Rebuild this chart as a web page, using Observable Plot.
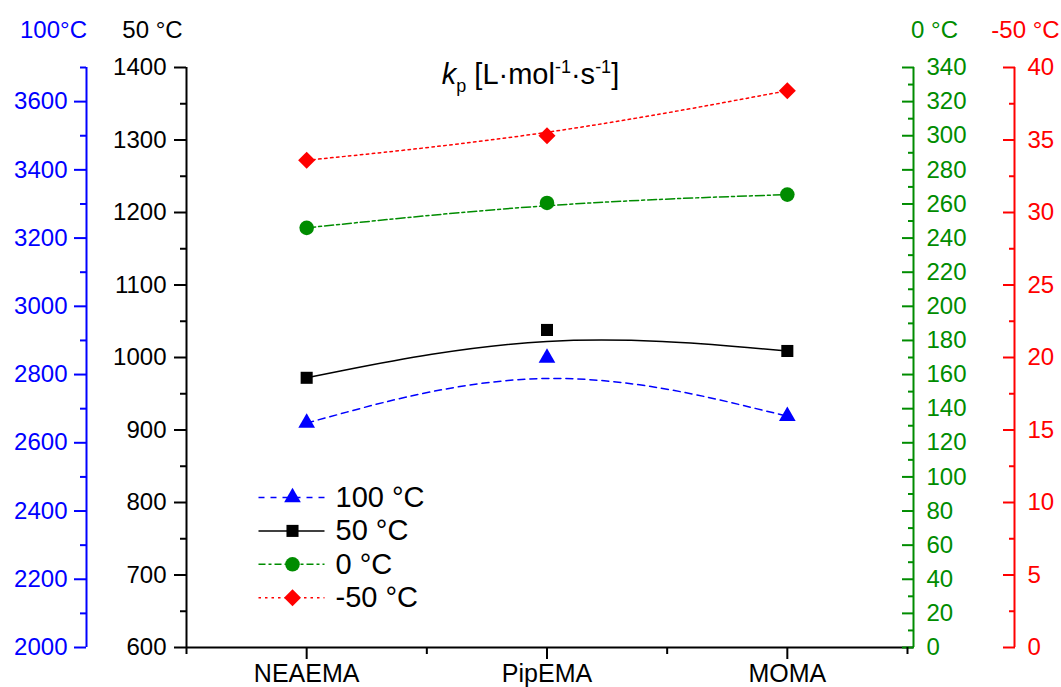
<!DOCTYPE html>
<html>
<head>
<meta charset="utf-8">
<script src="https://cdn.jsdelivr.net/npm/d3@7"></script>
<script src="https://cdn.jsdelivr.net/npm/@observablehq/plot@0.6"></script>
<style>
  html, body { margin: 0; padding: 0; background: white; }
  #wrap { position: relative; width: 1061px; height: 687px; overflow: hidden; font-family: "Liberation Sans", Arial, sans-serif; }
  #title { position: absolute; left: 0; width: 1061px; top: 57px; text-align: center; font-size: 29px; line-height: 34px; color: black; white-space: nowrap; }
  #title .sub { font-size: 18px; position: relative; top: 8px; }
  #title .sup { font-size: 18px; position: relative; top: -11px; }
</style>
</head>
<body>
<div id="wrap">
  <div id="chart"></div>
  <div id="title"><i>k</i><span class="sub">p</span> [L·mol<span class="sup">-1</span>·s<span class="sup">-1</span>]</div>
</div>
<script>
// ---- data ----
const categories = ["NEAEMA", "PipEMA", "MOMA"];
const kp100 = [2658, 2849, 2678];   // 100 °C, blue (left outer axis)
const kp50  = [972, 1038, 1009];    // 50 °C, black (left main axis)
const kp0   = [246, 260.6, 265.5];  // 0 °C, green (right inner axis)
const kpm50 = [33.6, 35.3, 38.4];   // -50 °C, red (right outer axis)

const mainMajor = [600, 700, 800, 900, 1000, 1100, 1200, 1300, 1400];
const mainMinor = [650, 750, 850, 950, 1050, 1150, 1250, 1350];
const blueMajor = [2000, 2200, 2400, 2600, 2800, 3000, 3200, 3400, 3600];
const blueMinor = [2100, 2300, 2500, 2700, 2900, 3100, 3300, 3500, 3700];
const greenMajor = [0, 20, 40, 60, 80, 100, 120, 140, 160, 180, 200, 220, 240, 260, 280, 300, 320, 340];
const greenMinor = [10, 30, 50, 70, 90, 110, 130, 150, 170, 190, 210, 230, 250, 270, 290, 310, 330];
const redMajor = [0, 5, 10, 15, 20, 25, 30, 35, 40];
const redMinor = [2.5, 7.5, 12.5, 17.5, 22.5, 27.5, 32.5, 37.5];
const xMajor = [1, 2, 3];
const xMinor = [0.5, 1.5, 2.5, 3.5];

const legendLabels = ["100 °C", "50 °C", "0 °C", "-50 °C"];
const axisTitles = ["100°C", "50 °C", "0 °C", "-50 °C"];

// ---- axis mappings onto the main (50 °C) scale ----
const toBlue = v => 600 + (v - 2000) * 800 / 1700;
const fromBlue = y => String(Math.round(2000 + (y - 600) * 1700 / 800));
const toGreen = v => 600 + v * 800 / 340;
const fromGreen = y => String(Math.round((y - 600) * 340 / 800));
const toRed = v => 600 + v * 20;
const fromRed = y => String(Math.round((y - 600) / 20));
const toMain = v => v;
const fromMain = y => String(Math.round(y));

const BLUE = "#0000ff", BLACK = "#000000", GREEN = "#008c00", RED = "#ff0000";

const diamond = {
  draw(context, size) {
    const h = Math.sqrt(size / 2);
    context.moveTo(0, -h); context.lineTo(h, 0); context.lineTo(0, h); context.lineTo(-h, 0); context.closePath();
  }
};
const legendLine = {
  draw(context) { context.moveTo(-34, 0); context.lineTo(32, 0); }
};

const series = [
  {values: kp100, map: toBlue, color: BLUE, dash: "7,5", symbol: "triangle", r: 6.2, legendDash: "6,6"},
  {values: kp50, map: toMain, color: BLACK, dash: null, symbol: "square", r: 6.8, legendDash: null},
  {values: kp0, map: toGreen, color: GREEN, dash: "9,3,3,3", symbol: "circle", r: 7.3, legendDash: "7,3,3,3"},
  {values: kpm50, map: toRed, color: RED, dash: "2.5,3.5", symbol: diamond, r: 6.8, legendDash: "2.5,4"}
];

const xDomain = [0.5, 3.525];
const FS = 24;

const marks = [];

// axis lines
marks.push(Plot.ruleX([xDomain[0]], {stroke: BLACK, strokeWidth: 2}));
marks.push(Plot.ruleX([xDomain[0]], {stroke: BLUE, strokeWidth: 2, dx: -100}));
marks.push(Plot.ruleX([xDomain[1]], {stroke: GREEN, strokeWidth: 2}));
marks.push(Plot.ruleX([xDomain[1]], {stroke: RED, strokeWidth: 2, dx: 101}));
marks.push(Plot.ruleY([600], {stroke: BLACK, strokeWidth: 2}));

// main y axis
marks.push(Plot.axisY(mainMajor, {anchor: "left", tickSize: 12, tickPadding: 8, strokeWidth: 2, fontSize: FS, color: BLACK, tickFormat: fromMain}));
marks.push(Plot.axisY(mainMinor, {anchor: "left", tickSize: 6, strokeWidth: 2, tickFormat: () => "", color: BLACK}));
// blue axis
marks.push(Plot.axisY(blueMajor.map(toBlue), {anchor: "left", dx: -100, tickSize: 12, tickPadding: 7, strokeWidth: 2, fontSize: FS, color: BLUE, tickFormat: fromBlue}));
marks.push(Plot.axisY(blueMinor.map(toBlue), {anchor: "left", dx: -100, tickSize: 6, strokeWidth: 2, tickFormat: () => "", color: BLUE}));
// green axis (ticks point inward)
marks.push(Plot.axisY(greenMajor.map(toGreen), {anchor: "right", tickSize: -12, tickPadding: 25, strokeWidth: 2, fontSize: FS, color: GREEN, tickFormat: fromGreen}));
marks.push(Plot.axisY(greenMinor.map(toGreen), {anchor: "right", tickSize: -6, strokeWidth: 2, tickFormat: () => "", color: GREEN}));
// red axis
marks.push(Plot.axisY(redMajor.map(toRed), {anchor: "right", dx: 101, tickSize: -12, tickPadding: 25, strokeWidth: 2, fontSize: FS, color: RED, tickFormat: fromRed}));
marks.push(Plot.axisY(redMinor.map(toRed), {anchor: "right", dx: 101, tickSize: -6, strokeWidth: 2, tickFormat: () => "", color: RED}));
// x axis
marks.push(Plot.axisX(xMajor, {anchor: "bottom", tickSize: 12, tickPadding: 5, strokeWidth: 2, fontSize: 25, color: BLACK, tickFormat: d => categories[d - 1]}));
marks.push(Plot.axisX(xMinor, {anchor: "bottom", tickSize: 7, strokeWidth: 2, tickFormat: () => "", color: BLACK}));

// axis titles
const titleOpts = {frameAnchor: "top-left", dy: -37, fontSize: FS, textAnchor: "middle", lineAnchor: "middle"};
marks.push(Plot.text([axisTitles[0]], {...titleOpts, dx: -133, fill: BLUE}));
marks.push(Plot.text([axisTitles[1]], {...titleOpts, dx: -34, fill: BLACK}));
marks.push(Plot.text([axisTitles[2]], {...titleOpts, frameAnchor: "top-right", dx: 21, fill: GREEN}));
marks.push(Plot.text([axisTitles[3]], {...titleOpts, frameAnchor: "top-right", dx: 112, fill: RED}));

// series
for (const s of series) {
  marks.push(Plot.line(s.values, {x: (d, i) => i + 1, y: d => s.map(d), curve: "basis", stroke: s.color, strokeWidth: 1.5, strokeDasharray: s.dash}));
}
for (const s of series) {
  marks.push(Plot.dot(s.values, {x: (d, i) => i + 1, y: d => s.map(d), symbol: s.symbol, r: s.r, fill: s.color, stroke: "none"}));
}

// legend
series.forEach((s, i) => {
  const dy = 430 + i * 33.4;
  marks.push(Plot.dot([legendLabels[i]], {frameAnchor: "top-left", dx: 106, dy, symbol: legendLine, fill: "none", stroke: s.color, strokeWidth: 1.5, strokeDasharray: s.legendDash}));
  marks.push(Plot.dot([legendLabels[i]], {frameAnchor: "top-left", dx: 106, dy, symbol: s.symbol, r: s.r, fill: s.color, stroke: "none"}));
  marks.push(Plot.text([legendLabels[i]], {frameAnchor: "top-left", dx: 149, dy, textAnchor: "start", lineAnchor: "middle", fill: BLACK, fontSize: 29}));
});

const chart = Plot.plot({
  width: 1061,
  height: 687,
  marginTop: 67,
  marginBottom: 40,
  marginLeft: 186,
  marginRight: 148,
  x: {type: "linear", domain: xDomain},
  y: {type: "linear", domain: [600, 1400]},
  style: {fontFamily: "'Liberation Sans', Arial, sans-serif", fontSize: "24px", background: "white", color: "black", overflow: "visible"},
  marks
});
document.getElementById("chart").appendChild(chart);
</script>
</body>
</html>
